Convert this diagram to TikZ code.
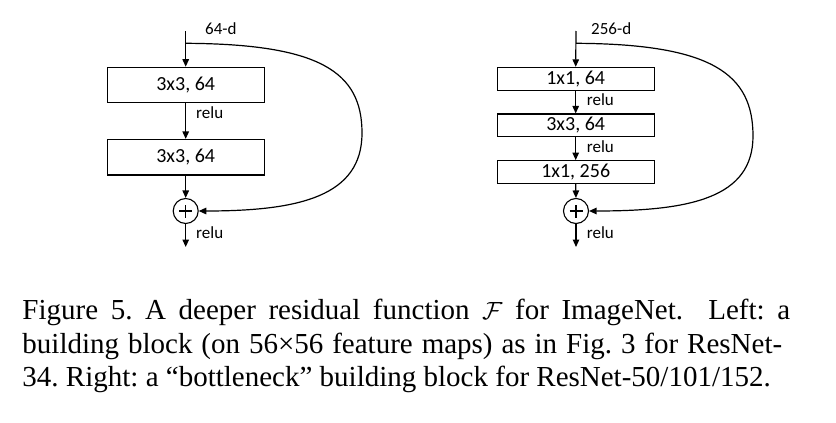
\documentclass[tikz,border=0pt]{standalone}
\usepackage{fontspec}
\setmainfont{Liberation Serif}
\newfontfamily\diagfont{Carlito}
\usetikzlibrary{arrows.meta}
\begin{document}
\begin{tikzpicture}[x=1pt,y=-1pt,
  conn/.style={line width=1.2pt,-{Triangle[length=7.5pt,width=6.5pt]}},
  plain/.style={line width=1.2pt},
  layer/.style={draw,line width=1.1pt,minimum width=156.7pt,inner sep=0pt,font=\diagfont\fontsize{20}{20}\selectfont},
  lbl/.style={anchor=west,inner sep=0pt,font=\diagfont\fontsize{17}{17}\selectfont},
  addc/.style={draw,circle,line width=1.1pt,minimum size=25pt,inner sep=0pt},
  capline/.style={anchor=base west,inner sep=0pt,font=\fontsize{29}{29}\selectfont\frenchspacing}]
\useasboundingbox (0,0) rectangle (836,423);
% ---------- left block ----------
\coordinate (lt) at (185.7,31);
\coordinate (lb) at (185.7,43.3);
\node[layer,minimum height=35.5pt] (l1) at (185.7,85) {3x3, 64};
\node[layer,minimum height=35.5pt] (l2) at (185.7,157.2) {3x3, 64};
\node[addc] (lp) at (185.7,211) {};
\draw[plain] ([xshift=-6.5pt]lp.center) -- ([xshift=6.5pt]lp.center);
\draw[plain] ([yshift=-6.5pt]lp.center) -- ([yshift=6.5pt]lp.center);
\coordinate (lo) at (185.7,247);
\node[lbl] (ld) at (205,29) {64-d};
\node[lbl] (lr1) at (196,113) {relu};
\node[lbl] (lr2) at (196,232.7) {relu};
\draw[conn] (lt) -- (l1.north);
\draw[conn] (l1.south) -- (l2.north);
\draw[conn] (l2.south) -- (lp.north);
\draw[conn] (lp.south) -- (lo);
\draw[conn] (lb) .. controls (320,44) and (362,72) .. (362,133)
  .. controls (362,196) and (300,211) .. (lp.east);
% ---------- right block ----------
\coordinate (rt) at (576,31);
\coordinate (rb) at (576,43.3);
\node[layer,minimum height=22.7pt] (r1) at (575.7,78.7) {1x1, 64};
\node[layer,minimum height=22.7pt] (r2) at (575.7,125.3) {3x3, 64};
\node[layer,minimum height=22.7pt] (r3) at (575.7,172) {1x1, 256};
\node[addc] (rp) at (576,211) {};
\draw[plain] ([xshift=-6.5pt]rp.center) -- ([xshift=6.5pt]rp.center);
\draw[plain] ([yshift=-6.5pt]rp.center) -- ([yshift=6.5pt]rp.center);
\coordinate (ro) at (576,247);
\node[lbl] (rd) at (591,29) {256-d};
\node[lbl] (rr1) at (586.7,99.3) {relu};
\node[lbl] (rr2) at (586.7,146.7) {relu};
\node[lbl] (rr3) at (586.7,232.7) {relu};
\draw[conn] (rt) -- (r1.north);
\draw[conn] (r1.south) -- (r2.north);
\draw[conn] (r2.south) -- (r3.north);
\draw[conn] (r3.south) -- (rp.north);
\draw[conn] (rp.south) -- (ro);
\draw[conn] (rb) .. controls (712,44) and (753,74) .. (753,136)
  .. controls (753,198) and (690,211) .. (rp.east);
% ---------- caption ----------
\node[capline] (c1) at (22.3,319.3) {\makebox[767.7pt][s]{Figure 5. A deeper residual function $\mathcal{F}$ for ImageNet.\ \ Left: a}};
\node[capline] (c2) at (22.3,353.3) {\makebox[759.7pt][s]{building block (on 56×56 feature maps) as in Fig. 3 for ResNet-}};
\node[capline] (c3) at (22.3,386.7) {34. Right: a “bottleneck” building block for ResNet-50/101/152.};
\end{tikzpicture}
\end{document}
